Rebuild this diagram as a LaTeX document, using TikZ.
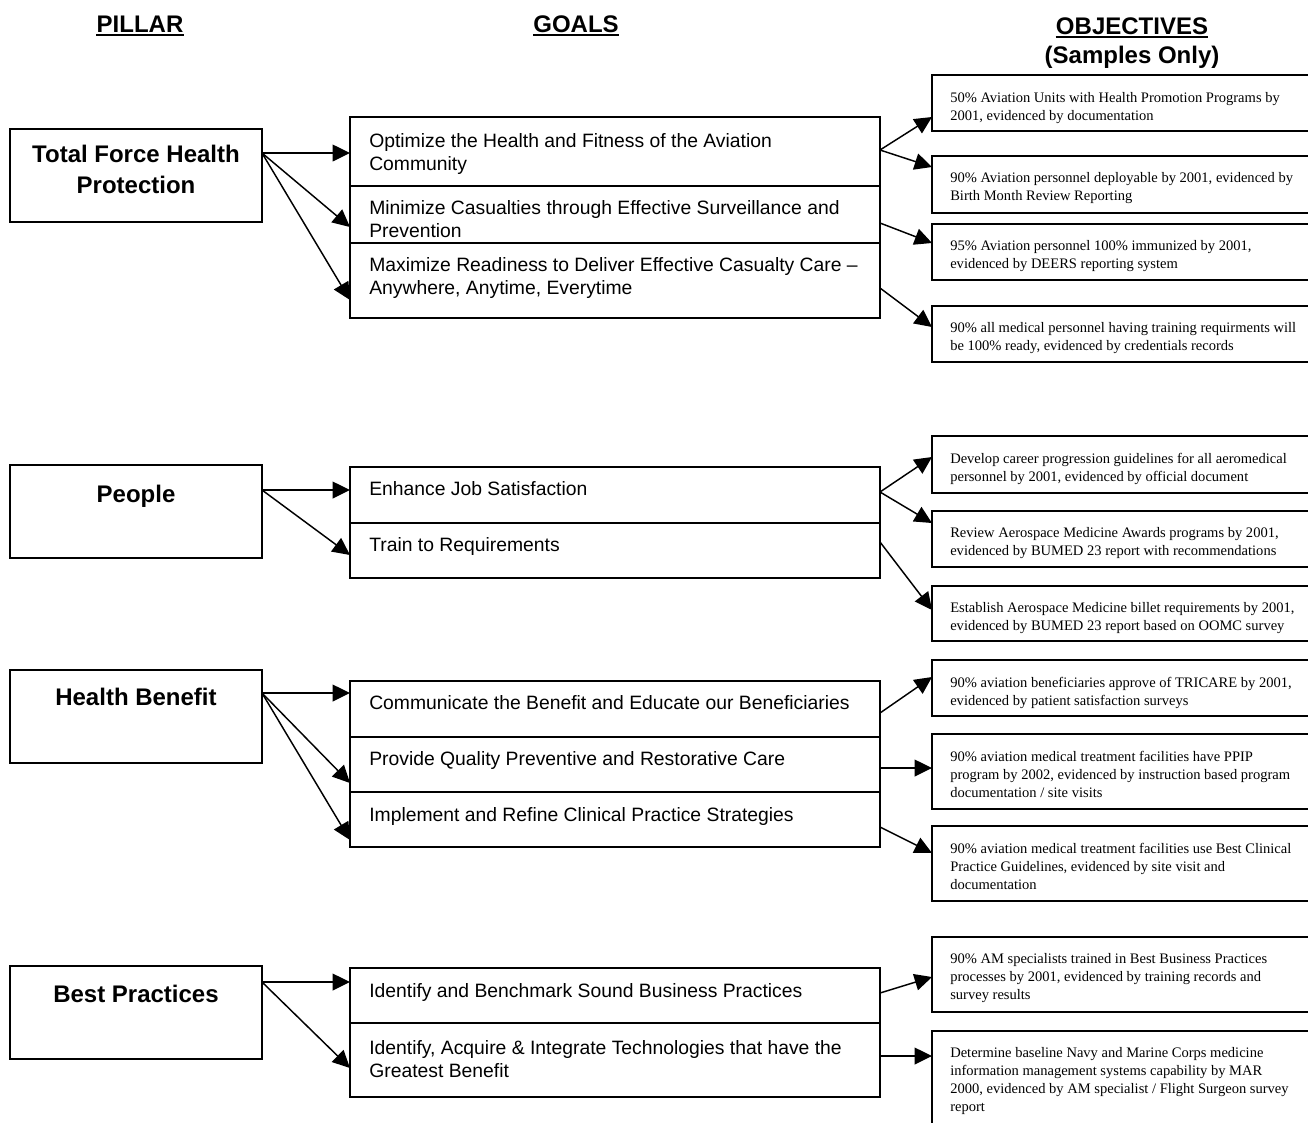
\documentclass[tikz,border=0pt]{standalone}
\usepackage{fontspec}
\setmainfont{Liberation Sans}
\newfontfamily\tnr{Liberation Serif}
\usetikzlibrary{arrows.meta,calc,fit}
\begin{document}
\begin{tikzpicture}[x=0.75pt,y=-0.75pt,
  cellbox/.style={draw,line width=1.5pt,inner sep=0pt,outer sep=0pt},
  head/.style={font=\fontsize{18}{23}\selectfont\bfseries,inner sep=0pt,anchor=base},
  ptext/.style={font=\fontsize{18}{23}\selectfont\bfseries,align=center,inner sep=0pt,anchor=north},
  gtext/.style={font=\fontsize{14.5}{17.25}\selectfont,align=left,inner sep=0pt,anchor=north west},
  otext/.style={font=\tnr\fontsize{10.9}{13.5}\selectfont,align=left,inner sep=0pt,anchor=north west},
  conn/.style={line width=1.1pt,-{Triangle[length=13pt,width=12.5pt]}},
  uline/.style={line width=1.5pt}]
\fill[white] (0,0) rectangle (1308,1122);
\useasboundingbox (0,0) rectangle (1308,1122);

% headers
\node[head] (hp) at (140,32) {PILLAR};
\node[head] (hg) at (576,32) {GOALS};
\node[head] (ho) at (1132,34) {OBJECTIVES};
\node[head] (hs) at (1132,63) {(Samples Only)};
\draw[uline] ($(hp.base west)+(0,3)$) -- ($(hp.base east)+(0,3)$);
\draw[uline] ($(hg.base west)+(0,3)$) -- ($(hg.base east)+(0,3)$);
\draw[uline] ($(ho.base west)+(0,3)$) -- ($(ho.base east)+(0,3)$);

% pillars
\node[cellbox,fit={(10,129)(262,222)}] (p1) {};
\node[cellbox,fit={(10,465)(262,558)}] (p2) {};
\node[cellbox,fit={(10,670)(262,763)}] (p3) {};
\node[cellbox,fit={(10,966)(262,1059)}] (p4) {};
\node[ptext] (p1t) at (136,145) {Total Force Health\\Protection};
\node[ptext] (p2t) at (136,485) {People};
\node[ptext] (p3t) at (136,688) {Health Benefit};
\node[ptext] (p4t) at (136,985) {Best Practices};

% goals
\node[cellbox,fit={(350,117)(880,186)}] (g1a) {};
\node[cellbox,fit={(350,186)(880,243)}] (g1b) {};
\node[cellbox,fit={(350,243)(880,318)}] (g1c) {};
\node[cellbox,fit={(350,467)(880,523)}] (g2a) {};
\node[cellbox,fit={(350,523)(880,578)}] (g2b) {};
\node[cellbox,fit={(350,681)(880,737)}] (g3a) {};
\node[cellbox,fit={(350,737)(880,792)}] (g3b) {};
\node[cellbox,fit={(350,792)(880,847)}] (g3c) {};
\node[cellbox,fit={(350,968)(880,1023)}] (g4a) {};
\node[cellbox,fit={(350,1023)(880,1097)}] (g4b) {};
\node[gtext] (g1at) at (369,133) {Optimize the Health and Fitness of the Aviation\\Community};
\node[gtext] (g1bt) at (369,200) {Minimize Casualties through Effective Surveillance and\\Prevention};
\node[gtext] (g1ct) at (369,257) {Maximize Readiness to Deliver Effective Casualty Care --\\Anywhere, Anytime, Everytime};
\node[gtext] (g2at) at (369,481) {Enhance Job Satisfaction};
\node[gtext] (g2bt) at (369,537) {Train to Requirements};
\node[gtext] (g3at) at (369,695) {Communicate the Benefit and Educate our Beneficiaries};
\node[gtext] (g3bt) at (369,751) {Provide Quality Preventive and Restorative Care};
\node[gtext] (g3ct) at (369,807) {Implement and Refine Clinical Practice Strategies};
\node[gtext] (g4at) at (369,983) {Identify and Benchmark Sound Business Practices};
\node[gtext] (g4bt) at (369,1040) {Identify, Acquire \& Integrate Technologies that have the\\Greatest Benefit};

% objectives
\node[cellbox,fit={(932,75)(1315,131)}] (o1) {};
\node[cellbox,fit={(932,156)(1315,213)}] (o2) {};
\node[cellbox,fit={(932,224)(1315,280)}] (o3) {};
\node[cellbox,fit={(932,306)(1315,362)}] (o4) {};
\node[cellbox,fit={(932,436)(1315,493)}] (o5) {};
\node[cellbox,fit={(932,511)(1315,567)}] (o6) {};
\node[cellbox,fit={(932,586)(1315,641)}] (o7) {};
\node[cellbox,fit={(932,660)(1315,716)}] (o8) {};
\node[cellbox,fit={(932,734)(1315,809)}] (o9) {};
\node[cellbox,fit={(932,826)(1315,901)}] (o10) {};
\node[cellbox,fit={(932,937)(1315,1012)}] (o11) {};
\node[cellbox,fit={(932,1031)(1315,1135)}] (o12) {};
\node[otext] (o1t) at (950,92) {50\% Aviation Units with Health Promotion Programs by\\2001, evidenced by documentation};
\node[otext] (o2t) at (950,172.5) {90\% Aviation personnel deployable by 2001, evidenced by\\Birth Month Review Reporting};
\node[otext] (o3t) at (950,240.5) {95\% Aviation personnel 100\% immunized by 2001,\\evidenced by DEERS reporting system};
\node[otext] (o4t) at (950,322.5) {90\% all medical personnel having training requirments will\\be 100\% ready, evidenced by credentials records};
\node[otext] (o5t) at (950,452.5) {Develop career progression guidelines for all aeromedical\\personnel by 2001, evidenced by official document};
\node[otext] (o6t) at (950,527.5) {Review Aerospace Medicine Awards programs by 2001,\\evidenced by BUMED 23 report with recommendations};
\node[otext] (o7t) at (950,602.5) {Establish Aerospace Medicine billet requirements by 2001,\\evidenced by BUMED 23 report based on OOMC survey};
\node[otext] (o8t) at (950,676.5) {90\% aviation beneficiaries approve of TRICARE by 2001,\\evidenced by patient satisfaction surveys};
\node[otext] (o9t) at (950,750.5) {90\% aviation medical treatment facilities have PPIP\\program by 2002, evidenced by instruction based program\\documentation / site visits};
\node[otext] (o10t) at (950,842.5) {90\% aviation medical treatment facilities use Best Clinical\\Practice Guidelines, evidenced by site visit and\\documentation};
\node[otext] (o11t) at (950,953.5) {90\% AM specialists trained in Best Business Practices\\processes by 2001, evidenced by training records and\\survey results};
\node[otext] (o12t) at (950,1047.5) {Determine baseline Navy and Marine Corps medicine\\information management systems capability by MAR\\2000, evidenced by AM specialist / Flight Surgeon survey\\report};

% pillar -> goals
\draw[conn] ($(p1.north east)+(0,24)$) -- ($(g1a.north west)+(0,36)$);
\draw[conn] ($(p1.north east)+(0,24)$) -- ($(g1b.north west)+(0,41)$);
\draw[conn] ($(p1.north east)+(0,24)$) -- ($(g1c.north west)+(0,57)$);
\draw[conn] ($(p2.north east)+(0,25)$) -- ($(g2a.north west)+(0,23)$);
\draw[conn] ($(p2.north east)+(0,25)$) -- ($(g2b.north west)+(0,32)$);
\draw[conn] ($(p3.north east)+(0,23)$) -- ($(g3a.north west)+(0,12)$);
\draw[conn] ($(p3.north east)+(0,23)$) -- ($(g3b.north west)+(0,46)$);
\draw[conn] ($(p3.north east)+(0,23)$) -- ($(g3c.north west)+(0,48)$);
\draw[conn] ($(p4.north east)+(0,16)$) -- ($(g4a.north west)+(0,14)$);
\draw[conn] ($(p4.north east)+(0,16)$) -- ($(g4b.north west)+(0,45)$);

% goals -> objectives
\draw[conn] ($(g1a.north east)+(0,33)$) -- ($(o1.north west)+(0,42)$);
\draw[conn] ($(g1a.north east)+(0,33)$) -- ($(o2.north west)+(0,11)$);
\draw[conn] ($(g1b.north east)+(0,37)$) -- ($(o3.north west)+(0,19)$);
\draw[conn] ($(g1c.north east)+(0,45)$) -- ($(o4.north west)+(0,21)$);
\draw[conn] ($(g2a.north east)+(0,25)$) -- ($(o5.north west)+(0,21)$);
\draw[conn] ($(g2a.north east)+(0,25)$) -- ($(o6.north west)+(0,12)$);
\draw[conn] ($(g2b.north east)+(0,19)$) -- ($(o7.north west)+(0,24)$);
\draw[conn] ($(g3a.north east)+(0,32)$) -- ($(o8.north west)+(0,17)$);
\draw[conn] ($(g3b.north east)+(0,31)$) -- ($(o9.north west)+(0,34)$);
\draw[conn] ($(g3c.north east)+(0,35)$) -- ($(o10.north west)+(0,27)$);
\draw[conn] ($(g4a.north east)+(0,25)$) -- ($(o11.north west)+(0,40)$);
\draw[conn] ($(g4b.north east)+(0,33)$) -- ($(o12.north west)+(0,25)$);
\end{tikzpicture}
\end{document}
